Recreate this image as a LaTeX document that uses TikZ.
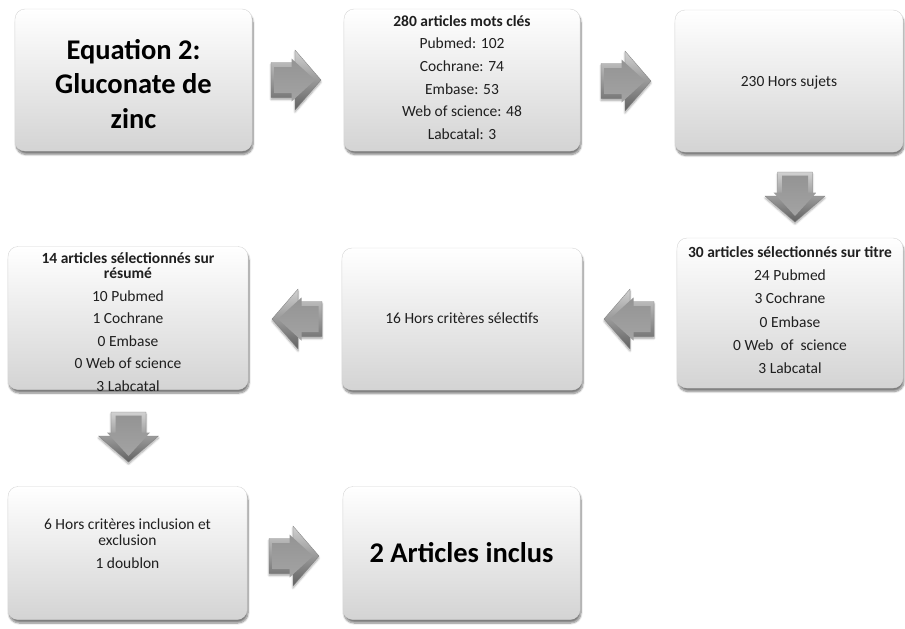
\documentclass[tikz,border=0pt]{standalone}
\usepackage{fontspec}
\setmainfont{Carlito}
\usetikzlibrary{shadows.blur}
\begin{document}
\begin{tikzpicture}[x=1pt,y=-1pt,
  box/.style={rectangle, rounded corners=10pt, draw=black!16, line width=0.4pt,
    top color=white, bottom color=black!17, inner sep=0pt,
    blur shadow={shadow xshift=1pt, shadow yshift=-3.5pt, shadow blur steps=8, shadow opacity=50}},
  txt/.style={align=center, text=black!88, inner sep=0pt, font=\fontsize{15.5}{22.6}\selectfont},
  big/.style={align=center, text=black, inner sep=0pt, font=\fontsize{28.5}{34.5}\selectfont\bfseries},
  barrow/.pic={
    \path[blur shadow={shadow xshift=0pt, shadow yshift=-2pt, shadow blur steps=6, shadow opacity=35},
      top color=black!18, bottom color=black!62, draw=black!50, line width=0.3pt]
      (-25,-17.5) -- (-1,-17.5) -- (-1,-30) -- (25,0) -- (-1,30) -- (-1,17.5) -- (-25,17.5) -- cycle;
    \path[top color=black!42, bottom color=black!36]
      (-21.5,-13) -- (-4.5,-13) -- (-4.5,-21.5) -- (19,0) -- (-4.5,21.5) -- (-4.5,13) -- (-21.5,13) -- cycle;
  },
]
\useasboundingbox (0,0) rectangle (905,629);
% boxes
\node[box, minimum width=237pt, minimum height=142pt] (b1) at (133.5,80) {};
\node[box, minimum width=236pt, minimum height=142pt] (b2) at (462,80) {};
\node[box, minimum width=228pt, minimum height=142pt] (b3) at (789,81) {};
\node[box, minimum width=226pt, minimum height=150pt] (b4) at (790,313) {};
\node[box, minimum width=240pt, minimum height=142pt] (b5) at (462,319) {};
\node[box, minimum width=240pt, minimum height=143pt] (b6) at (128,318) {};
\node[box, minimum width=239pt, minimum height=133pt] (b7) at (127.5,553) {};
\node[box, minimum width=237pt, minimum height=133pt] (b8) at (461.5,553) {};
% block arrows
\coordinate (a1) at (296,80);
\coordinate (a2) at (626,81);
\coordinate (a3) at (795,197);
\coordinate (a4) at (629,319);
\coordinate (a5) at (297,319);
\coordinate (a6) at (128.5,437);
\coordinate (a7) at (294,556);
\pic at (a1) {barrow};
\pic at (a2) {barrow};
\pic[rotate=-90] at (a3) {barrow};
\pic[rotate=180] at (a4) {barrow};
\pic[rotate=180] at (a5) {barrow};
\pic[rotate=-90] at (a6) {barrow};
\pic at (a7) {barrow};
% texts
\node[big] (t1) at (b1.center) [yshift=-4pt] {Equation 2:\\Gluconate de\\zinc};
\node[txt] (t2) at (462,77.5) {\textbf{280 articles mots clés}\\Pubmed: 102\\Cochrane: 74\\Embase: 53\\Web of science: 48\\Labcatal: 3};
\node[txt] (t3) at (789,82) {230 Hors sujets};
\node[txt, font=\fontsize{15.5}{23.3}\selectfont] (t4) at (790,310) {\textbf{30 articles sélectionnés sur titre}\\24 Pubmed\\3 Cochrane\\0 Embase\\0 Web\ \ of\ \ science\\3 Labcatal};
\node[txt] (t5) at (462,318) {16 Hors critères sélectifs};
\node[txt] (t6) at (128,322) {\textbf{14 articles sélectionnés sur}\\[-7.5pt]\textbf{résumé}\\10 Pubmed\\1 Cochrane\\0 Embase\\0 Web of science\\3 Labcatal};
\node[txt] (t7) at (127.5,543.5) {6 Hors critères inclusion et\\[-6.5pt]exclusion\\1 doublon};
\node[big] (t8) at (b8.center) {2 Articles inclus};
\end{tikzpicture}
\end{document}
